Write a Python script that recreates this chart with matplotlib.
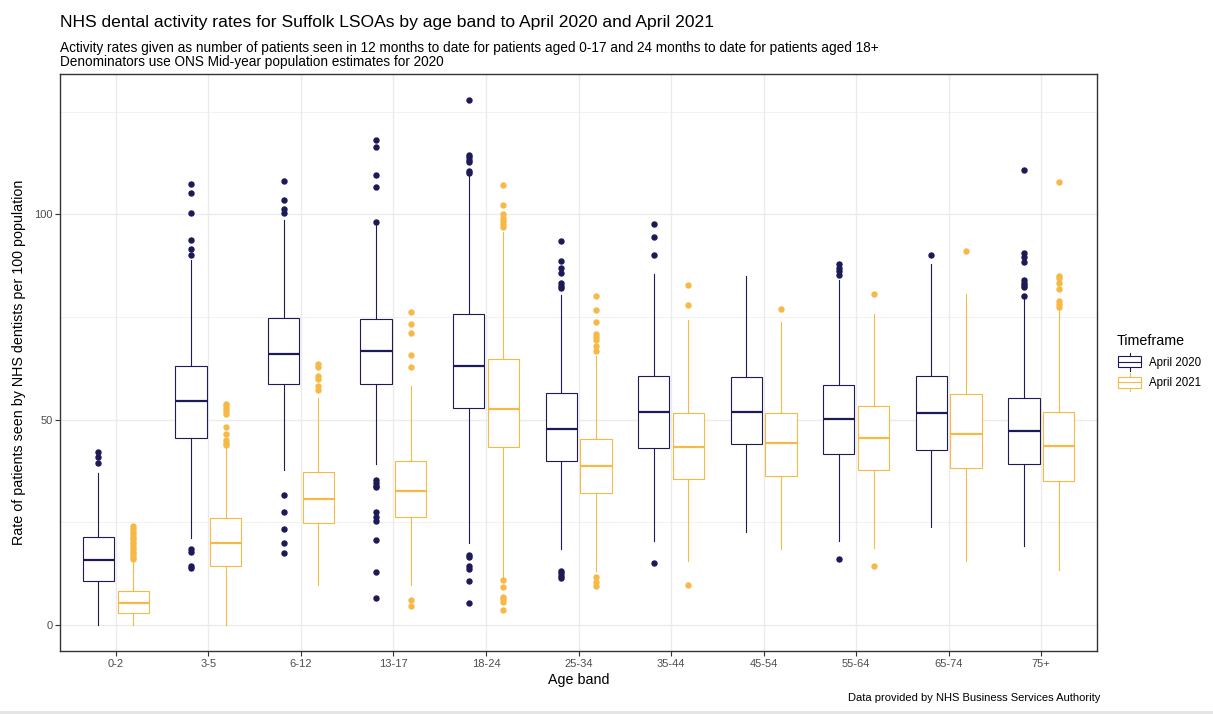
import matplotlib
matplotlib.use("Agg")
import matplotlib.pyplot as plt
from matplotlib.legend_handler import HandlerBase
from matplotlib.patches import Rectangle
from matplotlib.lines import Line2D

plt.rcParams['font.family'] = ['Liberation Sans', 'DejaVu Sans']

age_bands = ['0-2', '3-5', '6-12', '13-17', '18-24', '25-34',
             '35-44', '45-54', '55-64', '65-74', '75+']
timeframes = ['April 2020', 'April 2021']

# Box statistics, April 2020
whislo_2020 = [0.0, 21.2, 37.8, 39.1, 20.0, 18.5, 20.5, 22.7, 20.5, 23.9, 19.1]
q1_2020 = [10.7, 45.6, 58.6, 58.6, 52.8, 39.8, 43.0, 44.1, 41.7, 42.6, 39.1]
med_2020 = [15.9, 54.5, 65.9, 66.8, 63.1, 47.8, 51.9, 51.9, 50.1, 51.5, 47.3]
q3_2020 = [21.3, 63.0, 74.8, 74.5, 75.6, 56.5, 60.7, 60.4, 58.4, 60.7, 55.3]
whishi_2020 = [37.0, 88.8, 98.6, 97.5, 109.3, 80.4, 85.4, 84.9, 84.0, 87.9, 79.3]
outliers_2020 = [
    [42.2, 40.8, 39.4],
    [107.3, 105.2, 100.3, 93.8, 91.5, 90.0, 18.4, 17.8, 14.3, 13.9],
    [108.2, 103.6, 101.4, 100.3, 31.6, 27.4, 23.4, 19.9, 17.6],
    [118.0, 116.5, 109.5, 106.6, 98.1, 35.2, 34.5, 33.9, 33.5, 27.4, 26.3,
     25.2, 20.6, 12.8, 6.4],
    [127.8, 114.4, 113.9, 113.3, 112.7, 110.6, 110.0, 17.1, 16.6, 14.2, 13.7,
     10.7, 5.3],
    [93.6, 88.6, 87.0, 85.6, 83.3, 82.6, 82.0, 13.2, 12.6, 12.0, 11.5],
    [97.7, 94.4, 90.1, 15.1],
    [],
    [87.8, 87.0, 86.2, 85.1, 16.0],
    [90.1],
    [110.7, 90.5, 89.5, 88.4, 83.9, 83.3, 82.7, 82.2, 80.0],
]

# Box statistics, April 2021
whislo_2021 = [0.0, 0.0, 9.8, 9.8, 11.4, 13.1, 15.5, 18.4, 18.7, 15.5, 13.4]
q1_2021 = [2.9, 14.4, 24.9, 26.3, 43.4, 32.0, 35.6, 36.3, 37.6, 38.1, 35.1]
med_2021 = [5.3, 19.8, 30.6, 32.5, 52.6, 38.8, 43.2, 44.3, 45.4, 46.4, 43.5]
q3_2021 = [8.2, 25.9, 37.1, 39.9, 64.8, 45.3, 51.5, 51.7, 53.2, 56.3, 51.9]
whishi_2021 = [15.2, 43.0, 55.2, 58.1, 95.8, 65.5, 74.3, 73.7, 75.6, 80.7, 76.8]
outliers_2021 = [
    [24.0, 23.3, 22.6, 22.0, 21.4, 20.8, 20.2, 19.6, 19.0, 18.4, 17.8, 17.2,
     16.6, 16.0],
    [53.8, 53.2, 52.6, 52.0, 51.4, 48.2, 46.4, 45.0, 44.3, 43.7],
    [63.5, 62.8, 60.6, 59.9, 58.1, 57.2],
    [76.3, 73.4, 71.2, 65.8, 62.8, 6.0, 4.5],
    [107.1, 102.3, 100.2, 99.0, 98.3, 97.6, 96.9, 11.0, 9.1, 6.8, 6.2, 5.5,
     3.6],
    [80.2, 76.6, 73.7, 70.8, 70.0, 69.4, 68.0, 66.7, 11.6, 10.5, 9.4],
    [82.8, 77.9, 9.6],
    [77.0],
    [80.5, 14.2],
    [91.0],
    [107.8, 84.9, 84.4, 83.3, 81.7, 78.9, 78.2, 77.5],
]

colours = ['#1C1A57', '#F7B945']
y_ticks = [0, 50, 100]

BOX_LW = 0.8
MED_LW = 1.6


def make_stats(lo, q1, med, q3, hi, fl):
    return [dict(whislo=a, q1=b, med=c, q3=d, whishi=e, fliers=f)
            for a, b, c, d, e, f in zip(lo, q1, med, q3, hi, fl)]


stats = [
    make_stats(whislo_2020, q1_2020, med_2020, q3_2020, whishi_2020, outliers_2020),
    make_stats(whislo_2021, q1_2021, med_2021, q3_2021, whishi_2021, outliers_2021),
]

fig = plt.figure(figsize=(12.13, 7.14), dpi=100)
ax = fig.add_axes([0.0497, 0.0882, 0.8545, 0.8082])

grid_col = '#EBEBEB'
ax.set_axisbelow(True)

dodge = 0.1875
box_w = 0.3375
for k, (st, col) in enumerate(zip(stats, colours)):
    pos = [i + 1 + (-dodge if k == 0 else dodge) for i in range(len(age_bands))]
    ax.bxp(st, positions=pos, widths=box_w, patch_artist=True,
           showcaps=False, manage_ticks=False,
           boxprops=dict(facecolor='white', edgecolor=col, linewidth=BOX_LW),
           whiskerprops=dict(color=col, linewidth=BOX_LW),
           medianprops=dict(color=col, linewidth=MED_LW, solid_capstyle='butt'),
           flierprops=dict(marker='o', markerfacecolor=col, markeredgecolor=col,
                           markersize=3.6, linestyle='none'))

ax.set_xlim(0.4, len(age_bands) + 0.6)
ax.set_ylim(-6.4, 134.2)
ax.set_xticks(range(1, len(age_bands) + 1))
ax.set_xticklabels(age_bands)
ax.set_yticks(y_ticks)
ax.set_yticks([25, 75, 125], minor=True)
ax.grid(True, which='major', color=grid_col, linewidth=1.0)
ax.grid(True, which='minor', color=grid_col, linewidth=0.5)
ax.set_xticks([i + 1.5 for i in range(len(age_bands) - 1)], minor=True)
ax.grid(False, which='minor', axis='x')
ax.tick_params(axis='both', which='major', colors='#333333', labelcolor='#4D4D4D',
               labelsize=8, length=3.5, width=0.8, pad=2)
ax.tick_params(axis='both', which='minor', length=0)
for s in ax.spines.values():
    s.set_color('#333333')
    s.set_linewidth(1.0)

ax.set_xlabel('Age band', fontsize=10.3, color='black', labelpad=3)
ax.set_ylabel('Rate of patients seen by NHS dentists per 100 population',
              fontsize=10.3, color='black', labelpad=6)

fig.text(0.0495, 0.968, 'NHS dental activity rates for Suffolk LSOAs by age band to April 2020 and April 2021',
         fontsize=12.6, ha='left', va='center')
fig.text(0.0495, 0.933, 'Activity rates given as number of patients seen in 12 months to date for patients aged 0-17 and 24 months to date for patients aged 18+',
         fontsize=9.8, ha='left', va='center')
fig.text(0.0495, 0.913, 'Denominators use ONS Mid-year population estimates for 2020',
         fontsize=9.8, ha='left', va='center')
fig.text(0.907, 0.022, 'Data provided by NHS Business Services Authority',
         fontsize=8, ha='right', va='center')


class BoxKeyHandler(HandlerBase):
    def create_artists(self, legend, orig_handle, xdescent, ydescent,
                       width, height, fontsize, trans):
        col = orig_handle.get_color()
        cx = width / 2 - xdescent
        bw = width * 0.9
        y0 = -ydescent + height * 0.1
        y1 = -ydescent + height * 0.9
        yb = -ydescent - height * 0.15
        yt = -ydescent + height * 1.15
        ym = -ydescent + height * 0.5
        arts = [
            Line2D([cx, cx], [yb, y0], color=col, lw=BOX_LW),
            Line2D([cx, cx], [y1, yt], color=col, lw=BOX_LW),
            Rectangle((cx - bw / 2, y0), bw, y1 - y0, facecolor='white',
                      edgecolor=col, lw=BOX_LW),
            Line2D([cx - bw / 2, cx + bw / 2], [ym, ym], color=col, lw=BOX_LW),
        ]
        for a in arts:
            a.set_transform(trans)
        return arts


handles = [Line2D([], [], color=c) for c in colours]
leg = fig.legend(handles, timeframes, title='Timeframe',
                 handler_map={Line2D: BoxKeyHandler()},
                 loc='upper left', bbox_to_anchor=(0.917, 0.538),
                 frameon=False, fontsize=8.3, title_fontsize=10.3,
                 handlelength=2.2, handleheight=1.5, handletextpad=0.6,
                 labelspacing=0.55, borderaxespad=0)
leg._legend_box.align = 'left'

fig.add_artist(Rectangle((0, 0), 1, 0.004, transform=fig.transFigure,
                         facecolor='#E5E5E5', edgecolor='none'))

fig.savefig('out.png', dpi=100)
